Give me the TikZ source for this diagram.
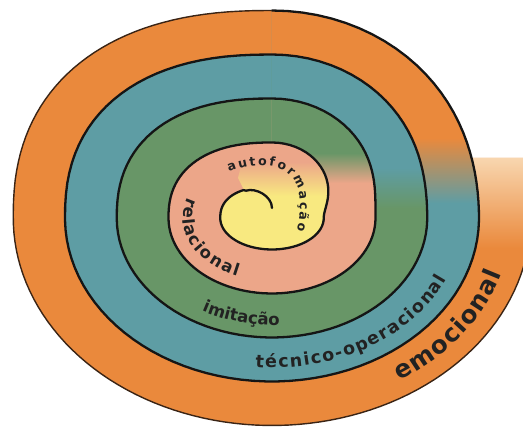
\documentclass[tikz,border=0pt]{standalone}
\usepackage{fontspec}
\setmainfont{DejaVu Sans}
\usetikzlibrary{decorations.text}

\definecolor{bandyellow}{RGB}{248,233,128}
\definecolor{bandpink}{RGB}{236,166,137}
\definecolor{bandgreen}{RGB}{104,150,103}
\definecolor{bandteal}{RGB}{94,157,164}
\definecolor{bandorange}{RGB}{234,137,60}
\definecolor{tailpale}{RGB}{248,214,175}
\definecolor{spiralink}{RGB}{21,21,21}
\definecolor{rimink}{RGB}{58,36,21}
\definecolor{labelink}{RGB}{34,34,34}

\begin{document}
\begin{tikzpicture}[
    x=1pt, y=1pt,
    declare function={
      sps(\t) = floor(\t/360) + (1-cos(2*min(mod(\t,360),90)))/2;
      spq(\t) = (mod(\t,360)>90)*(mod(\t,360)<180);
      spx(\t) = 51.75*sps(\t)*(spq(\t) ? -(abs(cos(\t))+0.00001)^0.85 : cos(\t));
      spy(\t) = (44*sps(\t)-12.5)*(spq(\t) ? (abs(sin(\t))+0.00001)^0.85 : sin(\t));
    },
    spiral/.style={draw=spiralink, line width=2.3pt, line join=round, line cap=round},
    rim/.style={draw=rimink, line width=1.4pt},
    lbl/.style 2 args={decorate, decoration={text along path, text align=left,
      text color=labelink, text={|\fontsize{#1}{#1}\bfseries|#2}}},
    lblfit/.style 2 args={decorate, decoration={text along path, text align={fit to path},
      text color=labelink, text={|\fontsize{#1}{#1}\bfseries|#2}}}
]
\clip (-272,-212) rectangle (251,218);

% outer band with its tail
\fill[bandorange] plot[domain=1530:1800, samples=120, variable=\t] ({spx(\t)},{spy(\t)})
  -- (259,60) -- (150,60) -- cycle;
\begin{scope}
  \clip plot[domain=1530:1800, samples=120, variable=\t] ({spx(\t)},{spy(\t)})
    -- (259,60) -- (150,60) -- cycle;
  \shade[top color=tailpale, bottom color=bandorange] (150,-30) rectangle (262,60);
\end{scope}

% inner turns
\foreach \k/\c [evaluate=\k as \ta using int(360*\k-270),
                evaluate=\k as \tb using int(360*\k+90)] in {4/bandteal,3/bandgreen,2/bandpink}
  \fill[\c] plot[domain=\ta:\tb, samples=120, variable=\t] ({spx(\t)},{spy(\t)}) -- cycle;
\fill[bandyellow] (0,10) .. controls (0,22) and (-16.5,30.6) .. (-25.9,27.3)
  -- plot[domain=120:450, samples=100, variable=\t] ({spx(\t)},{spy(\t)}) -- cycle;

% colour change where each turn steps outwards
\foreach \k/\ci/\co/\ya/\yb [evaluate=\k as \ta using int(360*\k),
                             evaluate=\k as \tb using int(360*\k+90),
                             evaluate=\k as \tc using int(360*\k-270),
                             evaluate=\k as \td using int(360*\k-360)]
    in {4/bandteal/bandorange/15/80, 3/bandgreen/bandteal/10/50, 2/bandpink/bandgreen/35/65}{
  \begin{scope}
    \clip plot[domain=\ta:\tb, samples=40, variable=\t] ({spx(\t)},{spy(\t)})
      -- plot[domain=\tc:\td, samples=40, variable=\t] ({spx(\t)},{spy(\t)}) -- cycle;
    \shade[bottom color=\ci, top color=\co] (0,\ya) rectangle (270,\yb);
    \fill[\co] (0,\yb) rectangle (270,220);
  \end{scope}
}
\begin{scope}
  \clip (0,0) -- plot[domain=360:450, samples=40, variable=\t] ({spx(\t)},{spy(\t)})
    -- (-26,72) -- (-34,40) -- (-26,24) -- cycle;
  \fill[bandyellow] (-40,0) rectangle (70,22);
  \shade[bottom color=bandyellow, top color=bandpink] (-40,22) rectangle (70,56);
  \fill[bandpink] (-40,56) rectangle (70,100);
\end{scope}

% the spiral line
\draw[spiral] (0,10) .. controls (0,22) and (-16.5,30.6) .. (-25.9,27.3)
  -- plot[domain=120:1530, samples=420, variable=\t] ({spx(\t)},{spy(\t)});
\draw[rim] plot[domain=1530:1810, samples=120, variable=\t] ({spx(\t)},{spy(\t)});

% labels
\path[lblfit={12.5}{autoformação}]
  (-43,46) .. controls (-15,57) and (16,55) .. (25,32) .. controls (29,20) and (29,5) .. (25,-13);
\path[lblfit={16.5}{relacional}] (161:89 and 63)
  arc[start angle=161, end angle=247, x radius=89, y radius=63];
\path[lbl={16.5}{imitação}] (240:140 and 107)
  arc[start angle=240, end angle=285, x radius=140, y radius=107];
\path[lblfit={17.5}{técnico-operacional}] (265:191 and 150)
  arc[start angle=265, end angle=336, x radius=191, y radius=150];
\path[lblfit={24.5}{emocional}] (302:240 and 191.5)
  arc[start angle=302, end angle=343, x radius=240, y radius=191.5];
\end{tikzpicture}
\end{document}
